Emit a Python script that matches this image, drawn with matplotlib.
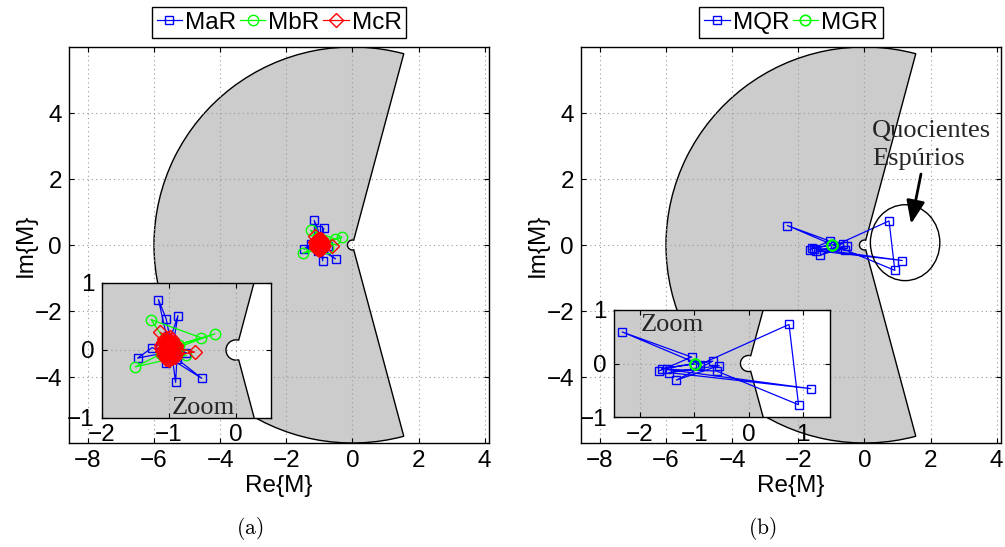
import matplotlib
matplotlib.use("Agg")
import matplotlib.pyplot as plt
from matplotlib.patches import Wedge, Ellipse

plt.rcParams['font.family'] = ['Liberation Sans', 'DejaVu Sans']
plt.rcParams['mathtext.fontset'] = 'cm'

# (a) iterates around -1
maR_re = [-1.00, -1.155, -1.04, -0.95, -0.865, -1.05, -1.25, -1.465, -1.10, -0.51, -0.88, -0.90, -0.95, -1.05, -0.74, -1.00]
maR_im = [0.05, 0.746, 0.46, 0.00, 0.51, -0.05, 0.035, -0.12, -0.05, -0.42, -0.13, -0.48, -0.10, -0.19, -0.04, 0.00]
mbR_re = [-0.98, -1.265, -0.515, -0.85, -0.315, -1.05, -0.74, -1.50, -1.12, -0.97, -1.00]
mbR_im = [0.02, 0.45, 0.18, 0.08, 0.24, -0.03, -0.08, -0.25, -0.06, -0.02, 0.00]
mcR_re = [-1.125, -0.95, -1.05, -0.615, -0.98, -1.08, -0.92, -1.02, -1.10, -0.90,
          -1.00, -0.97, -1.06, -0.95, -1.12, -0.88, -1.03, -0.99, -1.09, -0.94,
          -1.01, -0.96, -1.04, -0.93, -1.07, -0.91, -1.05, -0.98, -1.02, -0.97,
          -1.00, -0.99, -1.01, -1.08, -0.93, -1.04, -0.96, -1.11, -0.89, -1.06,
          -0.92, -1.03, -0.98, -1.07, -0.94, -1.02, -0.97, -1.05, -0.95, -1.01,
          -1.09, -0.90, -1.03, -0.99, -1.06, -0.96, -1.00, -1.04, -0.98, -1.00]
mcR_im = [0.26, 0.12, -0.10, -0.03, 0.05, 0.10, -0.08, 0.18, -0.02, 0.04,
          -0.15, 0.10, 0.04, -0.12, 0.08, -0.02, -0.06, 0.14, -0.08, 0.00,
          0.02, -0.04, 0.08, 0.06, -0.04, -0.10, 0.13, -0.09, -0.01, 0.03,
          0.07, -0.05, 0.01, 0.16, 0.11, -0.13, 0.17, 0.03, 0.08, -0.06,
          -0.03, 0.11, 0.19, 0.00, 0.09, -0.08, -0.11, 0.05, -0.01, 0.14,
          0.12, -0.06, -0.02, 0.09, 0.15, 0.02, -0.12, 0.03, -0.03, 0.01]

# (b)
mqR_re = [-1.65, -1.05, -2.33, -0.90, 0.745, 0.92, -0.59, -1.51, 1.145, -1.47, -0.54, -1.33, -0.66, -1.60, -1.00]
mqR_im = [-0.14, 0.12, 0.59, -0.02, 0.73, -0.77, -0.14, -0.11, -0.47, -0.17, -0.04, -0.31, 0.044, -0.10, 0.00]
mgR_re = [-0.98, -0.99, -0.98]
mgR_im = [-0.01, 0.00, -0.01]

W, H = 1005, 547
fs = 17.5
serif = ['Liberation Serif', 'DejaVu Serif']
txtc = '#262626'


def box(x0, y0, x1, y1):
    # pixel box (top-left origin) -> figure fraction
    return [x0 / W, 1 - y1 / H, (x1 - x0) / W, (y1 - y0) / H]


def sector(ax):
    ax.add_patch(Wedge((0, 0), 6.0, 75, 285, width=6.0 - 0.15,
                       facecolor='#cccccc', edgecolor='k', lw=1.0, zorder=1))


def style(ax, xlim, ylim, xt, yt):
    ax.set_xlim(xlim)
    ax.set_ylim(ylim)
    ax.set_xticks(xt)
    ax.set_yticks(yt)
    ax.tick_params(direction='in', top=True, right=True, length=3.5, width=0.8,
                   labelsize=fs, pad=5)
    ax.grid(True, color='#9a9a9a', linestyle=(0, (1, 3)), lw=0.8)
    ax.set_axisbelow('line')
    for s in ax.spines.values():
        s.set_linewidth(1.0)


def series_a(ax, lab=True):
    ax.plot(maR_re, maR_im, '-s', color='b', ms=5.5, mfc='none', mew=1.0, lw=0.9,
            label='MaR' if lab else None, zorder=3)
    ax.plot(mbR_re, mbR_im, '-o', color='#00ff00', ms=7.5, mfc='none', mew=1.0, lw=0.9,
            label='MbR' if lab else None, zorder=3)
    ax.plot(mcR_re, mcR_im, '-D', color='r', ms=7.0, mfc='none', mew=1.0, lw=0.9,
            label='McR' if lab else None, zorder=3)


def series_b(ax, lab=True):
    ax.plot(mqR_re, mqR_im, '-s', color='b', ms=5.5, mfc='none', mew=1.0, lw=0.9,
            label='MQR' if lab else None, zorder=3)
    ax.plot(mgR_re, mgR_im, '-o', color='#00ff00', ms=7.5, mfc='none', mew=1.2, lw=0.9,
            label='MGR' if lab else None, zorder=3)


def legend(ax, n):
    leg = ax.legend(loc='lower center', bbox_to_anchor=(0.5, 1.0), ncol=n,
                    frameon=True, fancybox=False, edgecolor='k', framealpha=1,
                    fontsize=fs, handlelength=1.05, handletextpad=0.12,
                    columnspacing=0.15, borderpad=0.2, borderaxespad=0.35)
    leg.get_frame().set_linewidth(1.0)


fig = plt.figure(figsize=(W / 100, H / 100), dpi=100)

# ---- (a) ----
ax1 = fig.add_axes(box(69, 47, 489, 443))
sector(ax1)
series_a(ax1)
style(ax1, (-8.57, 4.13), (-6, 6), [-8, -6, -4, -2, 0, 2, 4], [-4, -2, 0, 2, 4])
ax1.set_xlabel('Re{M}', fontsize=fs, labelpad=2)
ax1.set_ylabel('Im{M}', fontsize=fs, labelpad=-2)
legend(ax1, 3)

in1 = fig.add_axes(box(101.7, 282.5, 271, 417.5))
in1.set_facecolor('white')
sector(in1)
series_a(in1, lab=False)
style(in1, (-2, 0.52), (-1, 1), [-2, -1, 0], [-1, 0, 1])
in1.text(-0.96, -0.95, 'Zoom', family=serif, fontsize=19, color=txtc, va='baseline', zorder=5)

# ---- (b) ----
ax2 = fig.add_axes(box(581, 47, 1001, 443))
sector(ax2)
series_b(ax2)
style(ax2, (-8.57, 4.13), (-6, 6), [-8, -6, -4, -2, 0, 2, 4], [-4, -2, 0, 2, 4])
ax2.set_xlabel('Re{M}', fontsize=fs, labelpad=2)
ax2.set_ylabel('Im{M}', fontsize=fs, labelpad=-2)
legend(ax2, 2)
ax2.add_patch(Ellipse((1.23, 0.07), 2.1, 2.3, facecolor='none', edgecolor='k', lw=1.0, zorder=4))
ax2.text(0.23, 3.28, 'Quocientes', family=serif, fontsize=19, color=txtc, va='baseline', zorder=5)
ax2.text(0.23, 2.41, 'Espúrios', family=serif, fontsize=19, color=txtc, va='baseline', zorder=5)
ax2.annotate('', xy=(1.41, 0.64), xytext=(1.71, 2.15),
             arrowprops=dict(arrowstyle='-|>,head_length=0.7,head_width=0.28', lw=2.0,
                             color='k', shrinkA=0, shrinkB=0, mutation_scale=20), zorder=5)

in2 = fig.add_axes(box(614, 310, 830, 417))
in2.set_facecolor('white')
sector(in2)
series_b(in2, lab=False)
style(in2, (-2.48, 1.5), (-1, 1), [-2, -1, 0, 1], [-1, 0, 1])
in2.text(-1.98, 0.6, 'Zoom', family=serif, fontsize=19, color=txtc, va='baseline', zorder=5)

fig.text(250 / W, 1 - 529 / H, r'$(\mathrm{a})$', fontsize=15.5, ha='center', va='center')
fig.text(762 / W, 1 - 529 / H, r'$(\mathrm{b})$', fontsize=15.5, ha='center', va='center')

fig.savefig('out.png', dpi=100)
